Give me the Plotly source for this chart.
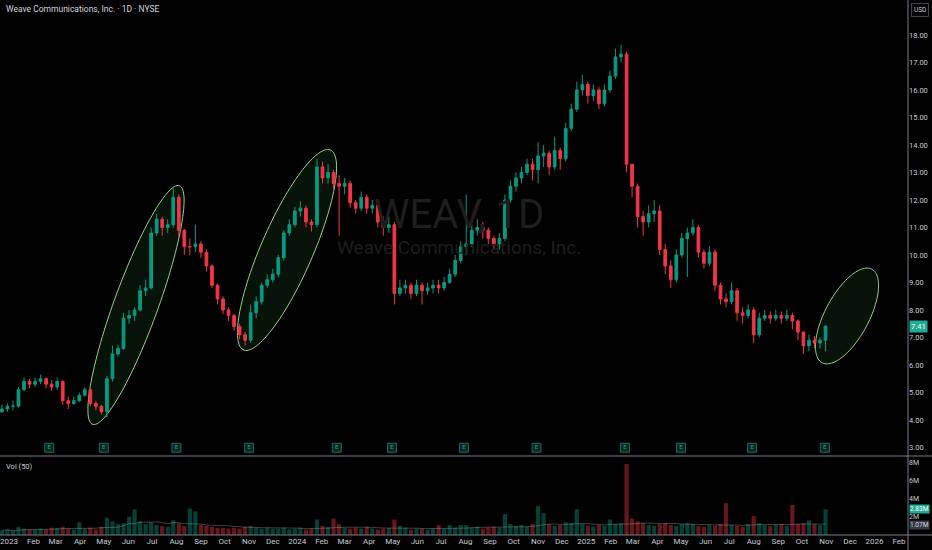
import numpy as np
import pandas as pd
import plotly.graph_objects as go

# Weekly candles (Fri closes, $)
closes = [4.40, 4.50, 4.50, 5.10, 5.40, 5.30, 5.40, 5.50, 5.30, 5.20,
          5.40, 4.70, 4.60, 4.70, 4.90, 5.10, 4.60, 4.50, 4.30, 5.50,
          6.40, 6.60, 7.70, 7.80, 8.00, 8.70, 8.80, 10.80, 11.30, 11.00,
          11.10, 12.10, 10.90, 10.30, 10.30, 10.40, 10.10, 9.60, 8.90, 8.40,
          8.00, 7.80, 7.40, 7.10, 6.90, 7.90, 8.30, 8.90, 9.10, 9.30,
          9.90, 10.80, 11.10, 11.60, 11.70, 11.20, 11.10, 13.20, 12.80, 13.00,
          12.60, 12.50, 12.60, 11.90, 11.70, 12.10, 11.70, 11.80, 11.20, 11.00,
          11.10, 8.60, 8.80, 8.90, 8.60, 8.90, 8.70, 8.80, 8.90, 8.80,
          9.00, 9.30, 9.80, 10.30, 10.40, 10.90, 11.00, 10.90, 10.60, 10.40,
          10.60, 12.00, 12.50, 12.80, 13.00, 13.30, 13.10, 13.60, 13.70, 13.20,
          13.80, 13.50, 14.60, 15.30, 16.00, 16.20, 15.80, 16.00, 15.50, 16.00,
          16.50, 17.20, 17.30, 13.30, 12.50, 11.40, 11.20, 11.50, 11.60, 10.20,
          9.60, 9.10, 10.00, 10.60, 10.80, 11.00, 10.10, 9.70, 10.10, 8.90,
          8.40, 8.30, 8.70, 7.90, 7.80, 8.00, 7.10, 7.70, 7.80, 7.70,
          7.80, 7.70, 7.80, 7.60, 7.20, 6.70, 6.90, 6.80, 6.90, 7.41]
highs = [4.55, 4.60, 4.70, 5.20, 5.55, 5.50, 5.55, 5.65, 5.55, 5.45,
         5.55, 5.45, 4.85, 4.85, 5.00, 5.20, 5.15, 4.70, 4.55, 5.60,
         6.70, 6.75, 7.90, 8.00, 8.10, 8.90, 9.10, 11.00, 11.50, 11.40,
         11.30, 12.45, 12.20, 10.95, 10.60, 11.10, 10.50, 10.20, 9.65, 8.95,
         8.50, 8.10, 7.85, 7.50, 7.20, 8.20, 8.50, 9.00, 9.30, 9.50,
         10.00, 10.90, 11.30, 11.75, 11.95, 11.80, 11.30, 13.50, 13.40, 13.30,
         13.10, 12.90, 12.80, 12.70, 12.00, 12.30, 12.20, 12.00, 11.90, 11.40,
         11.40, 11.20, 9.10, 9.10, 9.00, 9.10, 9.00, 9.00, 9.10, 9.10,
         9.20, 9.50, 10.00, 10.50, 12.20, 11.10, 11.30, 11.20, 11.00, 10.70,
         10.80, 12.20, 12.70, 13.00, 13.20, 13.50, 13.50, 14.10, 14.00, 13.80,
         14.30, 13.90, 14.80, 15.50, 16.30, 16.55, 16.30, 16.20, 16.10, 16.20,
         16.70, 17.50, 17.64, 17.40, 13.10, 12.60, 11.60, 11.80, 12.00, 11.80,
         10.40, 9.80, 10.20, 10.80, 11.00, 11.30, 11.10, 10.20, 10.30, 10.20,
         9.00, 8.60, 9.00, 8.80, 8.10, 8.20, 8.10, 7.90, 8.00, 7.95,
         8.00, 7.95, 8.00, 7.90, 7.65, 7.20, 7.10, 7.05, 7.00, 7.45]
lows = [4.25, 4.30, 4.35, 4.45, 5.05, 5.15, 5.20, 5.30, 5.15, 5.05,
        5.10, 4.55, 4.40, 4.55, 4.65, 4.85, 4.50, 4.35, 4.20, 4.10,
        5.40, 6.30, 6.55, 7.50, 7.60, 7.95, 8.50, 8.75, 10.70, 10.70,
        10.80, 11.00, 10.60, 10.00, 10.00, 10.10, 9.90, 9.40, 8.80, 8.20,
        7.85, 7.60, 7.25, 6.95, 6.70, 6.80, 7.70, 8.20, 8.80, 9.00,
        9.20, 9.80, 10.70, 11.00, 11.40, 11.00, 10.85, 11.00, 12.60, 12.60,
        12.40, 10.70, 12.20, 11.70, 11.50, 11.60, 11.50, 11.50, 11.00, 10.70,
        10.80, 8.20, 8.50, 8.60, 8.40, 8.50, 8.20, 8.55, 8.60, 8.60,
        8.70, 8.95, 9.20, 9.70, 10.00, 10.30, 10.70, 10.60, 10.40, 10.20,
        10.20, 10.50, 11.90, 12.30, 12.60, 12.90, 12.70, 12.60, 13.20, 12.90,
        13.10, 13.10, 13.40, 14.50, 15.20, 15.80, 15.50, 15.60, 15.30, 15.40,
        15.90, 16.40, 17.00, 13.00, 12.10, 11.00, 10.70, 11.00, 11.20, 10.00,
        9.30, 8.80, 9.00, 9.90, 9.20, 10.70, 9.90, 9.50, 9.60, 8.70,
        8.20, 8.10, 8.20, 7.60, 7.50, 7.70, 6.80, 7.00, 7.60, 7.50,
        7.60, 7.50, 7.60, 7.30, 6.90, 6.40, 6.50, 6.60, 6.60, 6.50]
first_open = 4.30

# volume (millions of shares)
volume_m = [0.5, 0.6, 0.5, 0.9, 0.7, 0.6, 0.6, 0.7, 0.6, 0.8,
            0.8, 0.9, 0.7, 0.6, 1.4, 0.7, 0.8, 0.6, 0.9, 1.9,
            1.5, 1.2, 1.3, 2.0, 2.8, 1.5, 1.2, 1.4, 1.1, 1.0,
            0.9, 1.6, 1.3, 1.0, 2.9, 2.6, 1.1, 1.0, 0.9, 0.8,
            0.8, 0.7, 0.8, 0.7, 0.9, 1.0, 0.8, 0.7, 0.8, 0.7,
            0.7, 0.8, 0.6, 0.7, 0.8, 0.6, 0.7, 1.7, 1.0, 0.9,
            1.8, 1.2, 0.8, 0.7, 0.8, 0.7, 0.9, 0.7, 0.6, 0.7,
            0.8, 1.7, 1.0, 0.8, 0.6, 0.7, 0.7, 0.6, 0.7, 1.1,
            0.7, 1.1, 0.8, 1.1, 1.1, 0.8, 0.9, 0.7, 0.8, 0.9,
            0.8, 2.3, 1.2, 1.0, 1.1, 0.9, 1.2, 3.2, 2.4, 1.2,
            1.0, 1.1, 1.4, 1.3, 2.8, 1.2, 1.0, 0.9, 1.1, 1.0,
            1.7, 1.2, 1.3, 7.8, 1.8, 1.5, 1.3, 1.1, 1.0, 1.2,
            1.3, 1.1, 1.0, 1.2, 1.3, 1.2, 1.0, 0.9, 1.1, 1.0,
            1.2, 3.5, 1.1, 1.0, 0.9, 1.2, 2.1, 1.3, 1.1, 1.0,
            1.1, 1.2, 1.0, 3.3, 1.2, 1.3, 1.6, 1.2, 1.1, 2.83]

earnings_dates = ["2023-02-21", "2023-05-01", "2023-08-01", "2023-11-01",
                  "2024-02-20", "2024-04-30", "2024-07-30", "2024-10-30",
                  "2025-02-19", "2025-05-01", "2025-07-30", "2025-10-30"]

price_ticks = [3, 4, 5, 6, 7, 8, 9, 10, 11, 12, 13, 14, 15, 16, 17, 18]
vol_ticks = [2e6, 4e6, 6e6, 8e6]
vol_tick_text = ["2M", "4M", "6M", "8M"]

last_price = 7.41
last_volume = 2.83e6
vol_ma_value = 1.07e6

weeks = pd.date_range("2022-12-23", periods=len(closes), freq="W-FRI")
opens = [first_open] + closes[:-1]
volume = [v * 1e6 for v in volume_m]
vol_ma = pd.Series(volume).rolling(10, min_periods=1).median()

UP = "#089981"
DOWN = "#F23645"
TXT = "#c8cbd3"
LINE = "#7a7d86"

W, H = 932, 550
ML, MR, MT, MB = 0, 24, 0, 15
PW, PH = W - ML - MR, H - MT - MB
price_range = [2.71, 19.27]

fig = go.Figure()

fig.add_trace(go.Candlestick(
    x=weeks, open=opens, high=highs, low=lows, close=closes,
    increasing=dict(line=dict(color=UP, width=1), fillcolor=UP),
    decreasing=dict(line=dict(color=DOWN, width=1), fillcolor=DOWN),
    xaxis="x", yaxis="y", showlegend=False, hoverinfo="skip"
))

bar_colors = ["rgba(8,153,129,0.42)" if c >= o else "rgba(242,54,69,0.42)"
              for o, c in zip(opens, closes)]
fig.add_trace(go.Bar(
    x=weeks, y=volume, marker=dict(color=bar_colors, line=dict(width=0)),
    xaxis="x", yaxis="y2", showlegend=False, hoverinfo="skip"
))
fig.add_trace(go.Scatter(
    x=weeks, y=vol_ma, mode="lines",
    line=dict(color="rgba(180,180,180,0.35)", width=1),
    xaxis="x", yaxis="y2", showlegend=False, hoverinfo="skip"
))

# earnings "E" flags along the bottom of the price pane
fig.add_trace(go.Scatter(
    x=pd.to_datetime(earnings_dates), y=[price_range[0] + 0.28] * len(earnings_dates),
    mode="markers+text", text=["E"] * len(earnings_dates),
    textposition="middle center", textfont=dict(size=6, color="#2a9d8f"),
    marker=dict(symbol="square", size=9, color="#0b2723",
                line=dict(color="#1d6b60", width=1)),
    xaxis="x", yaxis="y", showlegend=False, hoverinfo="skip", cliponaxis=False
))


def ellipse_path(cx, cy, a, b, ang):
    # cx, cy in figure pixels; converted to paper coords
    th = np.radians(ang)
    t = np.linspace(0, 2 * np.pi, 120)
    px = cx + a * np.cos(t) * np.cos(th) - b * np.sin(t) * np.sin(th)
    py = cy - (a * np.cos(t) * np.sin(th) + b * np.sin(t) * np.cos(th))
    xp = (px - ML) / PW
    yp = (PH - (py - MT)) / PH
    pts = [f"{x:.5f},{y:.5f}" for x, y in zip(xp, yp)]
    return "M " + " L ".join(pts) + " Z"


shapes = []
for cx, cy, a, b, ang in [(136, 305, 127, 22, 70), (287, 250, 109, 26, 66.5),
                          (847, 316, 53, 22, 62)]:
    shapes.append(dict(type="path", path=ellipse_path(cx, cy, a, b, ang),
                       xref="paper", yref="paper",
                       line=dict(color="#9bd08a", width=1),
                       fillcolor="rgba(56,142,60,0.13)", layer="below"))

pane_split = (PH - 456) / PH
# pane separators and axis line
shapes.append(dict(type="line", xref="paper", yref="paper", x0=0, x1=W / PW,
                   y0=pane_split, y1=pane_split, line=dict(color=LINE, width=1)))
shapes.append(dict(type="line", xref="paper", yref="paper", x0=0, x1=W / PW,
                   y0=0, y1=0, line=dict(color=LINE, width=1)))
shapes.append(dict(type="line", xref="paper", yref="paper", x0=1, x1=1,
                   y0=-MB / PH, y1=1, line=dict(color=LINE, width=1)))

months = pd.date_range("2023-01-01", "2026-02-01", freq="MS")
month_text = [str(d.year) if d.month == 1 else d.strftime("%b") for d in months]

fig.update_layout(
    width=W, height=H,
    margin=dict(l=ML, r=MR, t=MT, b=MB),
    paper_bgcolor="#000000", plot_bgcolor="#000000",
    font=dict(family="Roboto, Liberation Sans, sans-serif", color=TXT, size=8),
    showlegend=False, bargap=0.25,
    xaxis=dict(type="date", range=["2022-12-20 14:00", "2026-02-12 10:00"],
               anchor="y2", tickvals=months, ticktext=month_text,
               showgrid=False, zeroline=False, showline=False, ticks="",
               tickfont=dict(size=8, color=TXT), rangeslider=dict(visible=False)),
    yaxis=dict(domain=[pane_split + 0.001, 1], range=price_range, side="right",
               anchor="x", tickvals=price_ticks,
               ticktext=[f"{v:.2f}" for v in price_ticks],
               showgrid=False, zeroline=False, ticks="",
               tickfont=dict(size=7.5, color=TXT)),
    yaxis2=dict(domain=[0, pane_split - 0.002], range=[0, 8.55e6], side="right",
                anchor="x", tickvals=vol_ticks, ticktext=vol_tick_text,
                showgrid=False, zeroline=False, ticks="",
                tickfont=dict(size=7, color=TXT)),
    shapes=shapes,
)

annotations = [
    dict(text="Weave Communications, Inc. · 1D · NYSE", xref="paper", yref="paper",
         x=0.004, y=1 - 9 / PH, xanchor="left", yanchor="middle", showarrow=False,
         font=dict(size=8.5, color="#d1d4dc")),
    dict(text="Vol (50)", xref="paper", yref="paper", x=0.004, y=(PH - 466) / PH,
         xanchor="left", yanchor="middle", showarrow=False,
         font=dict(size=7.5, color=TXT)),
    dict(text="WEAV, 1D", xref="paper", yref="paper", x=0.505, y=(PH - 214) / PH,
         xanchor="center", yanchor="middle", showarrow=False,
         font=dict(size=40, color="#1e1e1e")),
    dict(text="Weave Communications, Inc.", xref="paper", yref="paper", x=0.505,
         y=(PH - 247) / PH, xanchor="center", yanchor="middle", showarrow=False,
         font=dict(size=19, color="#1e1e1e")),
    dict(text="USD", xref="paper", yref="paper", x=1, xshift=3, y=1 - 10 / PH,
         xanchor="left", yanchor="middle", showarrow=False,
         font=dict(size=6.5, color=TXT), bordercolor="#434651", borderwidth=1,
         borderpad=2, bgcolor="#000000"),
    dict(text=f"{last_price:.2f}", xref="paper", yref="y", x=1, xshift=1,
         y=last_price, xanchor="left", yanchor="middle", showarrow=False,
         font=dict(size=7.5, color="#ffffff"), bgcolor="#22ab94", borderpad=1),
    dict(text=f"{last_volume / 1e6:.2f}M", xref="paper", yref="y2", x=1, xshift=1,
         y=last_volume, xanchor="left", yanchor="middle", showarrow=False,
         font=dict(size=6.5, color="#ffffff"), bgcolor="#22ab94", borderpad=0),
    dict(text=f"{vol_ma_value / 1e6:.2f}M", xref="paper", yref="y2", x=1, xshift=1,
         y=vol_ma_value, xanchor="left", yanchor="middle", showarrow=False,
         font=dict(size=6.5, color="#d1d4dc"), bgcolor="#363a45", borderpad=0),
]
fig.update_layout(annotations=annotations)

fig.write_html("out.html", config={"displayModeBar": False},
               post_script="document.body.style.margin='0';"
                           "document.body.style.background='#000';")
